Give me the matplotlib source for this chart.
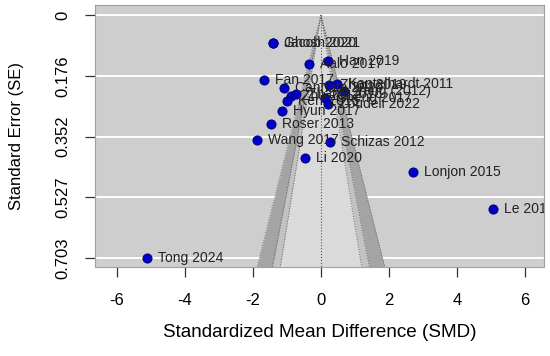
import numpy as np
import matplotlib
matplotlib.use("Agg")
import matplotlib.pyplot as plt

# Estudios: nombre, diferencia de medias estandarizada, error estandar
estudios = ["Ghosh 2021", "Jacob 2020", "Han 2019", "Aalo 2017", "Fan 2017",
            "Cannata 2020", "Zhu 2012", "Zhang 2016", "Kerr 2015", "Zhou 2019",
            "Kantelhardt 2011", "Yang (2012)", "Cheng 2017", "Zoudeli 2022",
            "Hyun 2017", "Roser 2013", "Wang 2017", "Schizas 2012", "Li 2020",
            "Lonjon 2015", "Le 2019", "Tong 2024"]
smd = [-1.41, -1.41, 0.22, -0.36, -1.67,
       -1.09, -0.89, -0.72, -0.99, 0.24,
       0.46, 0.68, 0.12, 0.22,
       -1.16, -1.48, -1.87, 0.26, -0.47,
       2.70, 5.07, -5.13]
se = [0.081, 0.081, 0.133, 0.141, 0.188,
      0.212, 0.234, 0.229, 0.250, 0.202,
      0.199, 0.221, 0.239, 0.258,
      0.279, 0.315, 0.361, 0.368, 0.414,
      0.454, 0.561, 0.702]

yticks = [0, 0.176, 0.352, 0.527, 0.703]
xticks = [-6, -4, -2, 0, 2, 4, 6]
niveles_z = [1.645, 1.96, 2.576]  # 90%, 95%, 99%

plt.rcParams["font.family"] = ["Liberation Sans", "DejaVu Sans"]

fig = plt.figure(figsize=(5.5, 3.56), dpi=100)
ax = fig.add_axes([0.1727, 0.25, 0.816, 0.736])

xlim = (-6.65, 6.56)
ylim = (0.729, -0.029)
ax.set_xlim(xlim)
ax.set_ylim(ylim)
ax.set_facecolor("#cecece")

# lineas de la rejilla horizontales
for y in yticks:
    ax.axhline(y, color="white", lw=1.4, zorder=1)

# embudo con contornos
s = np.linspace(0, ylim[0], 50)
ax.fill_betweenx(s, -niveles_z[2] * s, niveles_z[2] * s, color="#a4a4a4", lw=0, zorder=2)
ax.fill_betweenx(s, -niveles_z[1] * s, niveles_z[1] * s, color="#c2c2c2", lw=0, zorder=2)
ax.fill_betweenx(s, -niveles_z[0] * s, niveles_z[0] * s, color="#dadada", lw=0, zorder=2)
for z in niveles_z:
    ax.plot(-z * s, s, ls=":", color="#666666", lw=0.7, zorder=3)
    ax.plot(z * s, s, ls=":", color="#666666", lw=0.7, zorder=3)
ax.plot([0, 0], [0, ylim[0]], ls=":", color="#555555", lw=0.8, zorder=3)

# estudios
ax.scatter(smd, se, s=44, color="#0000cc", edgecolor="#000066", lw=0.6, zorder=5)
for nombre, x, y in zip(estudios, smd, se):
    ax.annotate(nombre, (x, y), xytext=(8, 0), textcoords="offset points",
                va="center", ha="left", fontsize=10, color="#222222",
                zorder=6, annotation_clip=False, clip_on=True)

ax.set_xticks(xticks)
ax.set_xticklabels([str(v) for v in xticks])
ax.set_yticks(yticks)
ax.set_yticklabels([str(v) for v in yticks], rotation=90, va="center")
ax.tick_params(axis="both", length=7, width=0.9, color="#333333", labelsize=12, pad=6)
ax.tick_params(axis="x", pad=12)
ax.tick_params(axis="y", pad=11)

for sp in ax.spines.values():
    sp.set_color("#a0a0a0")
    sp.set_linewidth(0.8)

ax.set_xlabel("Standardized Mean Difference (SMD)", fontsize=13.6, labelpad=11)
ax.set_ylabel("Standard Error (SE)", fontsize=12, labelpad=22)

fig.savefig("out.png", dpi=100)
